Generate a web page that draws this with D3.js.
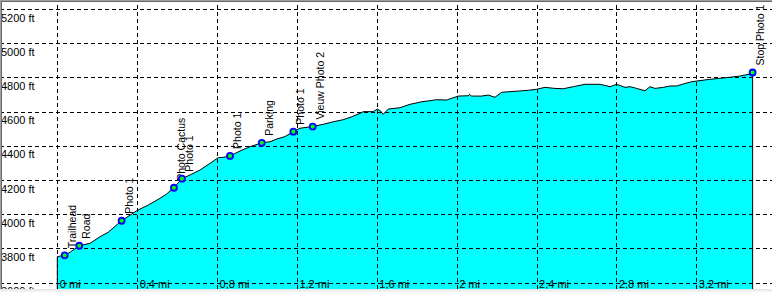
<!DOCTYPE html>
<html>
<head>
<meta charset="utf-8">
<script src="https://cdn.jsdelivr.net/npm/d3@7"></script>
<style>
  body { margin: 0; background: #fff; }
  svg { display: block; font-family: Arial, 'Liberation Sans', sans-serif; }
</style>
</head>
<body>
<div id="chart-area"></div>
<script>
// elevation profile, distance in miles, elevation in feet
const distance = [0, 0.037, 0.064, 0.110, 0.164, 0.214, 0.255, 0.322, 0.398, 0.456, 0.514, 0.548,
	0.584, 0.624, 0.665, 0.715, 0.765, 0.806, 0.831, 0.865, 0.915, 0.965, 1.024, 1.065, 1.099, 1.140,
	1.182, 1.215, 1.279, 1.332, 1.382, 1.432, 1.474, 1.516, 1.532, 1.582, 1.602, 1.619, 1.632, 1.657,
	1.716, 1.766, 1.791, 1.825, 1.866, 1.900, 1.950, 1.975, 2.008, 2.058, 2.063, 2.075, 2.125, 2.158,
	2.192, 2.225, 2.267, 2.317, 2.359, 2.401, 2.442, 2.492, 2.534, 2.584, 2.643, 2.718, 2.768, 2.801,
	2.843, 2.868, 2.901, 2.943, 2.968, 2.993, 3.035, 3.068, 3.102, 3.135, 3.177, 3.202, 3.268, 3.318,
	3.368, 3.418, 3.469, 3.482];
const elevation = [3752, 3760, 3778, 3816, 3830, 3869, 3895, 3962, 4021, 4054, 4093, 4119,
	4155, 4208, 4230, 4259, 4298, 4331, 4333, 4341, 4370, 4395, 4418, 4424, 4440, 4454,
	4483, 4503, 4513, 4526, 4541, 4553, 4570, 4590, 4600, 4600, 4615, 4604, 4584, 4615,
	4623, 4643, 4649, 4658, 4664, 4670, 4668, 4678, 4691, 4693, 4701, 4691, 4691, 4697,
	4684, 4713, 4717, 4721, 4725, 4731, 4742, 4736, 4734, 4746, 4760, 4760, 4746, 4760,
	4742, 4746, 4736, 4722, 4746, 4736, 4742, 4750, 4750, 4762, 4775, 4779, 4789, 4795,
	4801, 4808, 4820, 4829];

// waypoints
const wpNames = ['Trailhead', 'Road', 'Photo 1', 'Photo Cactus', 'Photo 1', 'Photo 1', 'Parking',
	'Photo 1', 'Vieuw Photo 2', 'Stop Photo 1'];
const wpMiles = [0.037, 0.110, 0.322, 0.584, 0.624, 0.865, 1.024, 1.182, 1.279, 3.482];
const wpFeet = [3760, 3816, 3962, 4155, 4208, 4341, 4418, 4483, 4513, 4829];

// ticks
const yTicks = [3600, 3800, 4000, 4200, 4400, 4600, 4800, 5000, 5200];
const xTicks = [0, 0.4, 0.8, 1.2, 1.6, 2, 2.4, 2.8, 3.2];
const xTickLabels = ['0 mi', '0,4 mi', '0,8 mi', '1,2 mi', '1,6 mi', '2 mi', '2,4 mi', '2,8 mi', '3,2 mi'];

let width = 772;
let height = 292;
let plotBottom = 289;

const svg = d3.select('#chart-area').append('svg')
	.attr('width', width)
	.attr('height', height);

svg.append('rect')
	.attr('width', width)
	.attr('height', height)
	.attr('fill', '#fff');

let x = d3.scaleLinear()
	.domain([0, 3.579])
	.range([57.3, 772]);

let y = d3.scaleLinear()
	.domain([3563, 5247])
	.range([plotBottom, 1]);

let profile = distance.map((d, i) => [d, elevation[i]]);

// filled area under the profile
let area = d3.area()
	.x(d => x(d[0]))
	.y0(plotBottom)
	.y1(d => y(d[1]));

svg.append('path')
	.datum(profile)
	.attr('d', area)
	.attr('fill', '#00ffff');

// horizontal grid + labels
let yAxisCall = d3.axisRight(y)
	.tickValues(yTicks)
	.tickSize(width)
	.tickFormat(d => d + ' ft');
let yAxis = svg.append('g')
	.attr('class', 'y-axis')
	.call(yAxisCall);
yAxis.select('.domain').remove();
yAxis.selectAll('line')
	.attr('stroke', '#000')
	.attr('stroke-dasharray', '4,3')
	.attr('shape-rendering', 'crispEdges');
yAxis.selectAll('text')
	.attr('x', 1)
	.attr('dy', 12)
	.attr('fill', '#000')
	.attr('font-size', '11px')
	.attr('text-anchor', 'start');

// vertical grid + labels
let xAxisCall = d3.axisBottom(x)
	.tickValues(xTicks)
	.tickSize(-(plotBottom - 1))
	.tickFormat((d, i) => xTickLabels[i]);
let xAxis = svg.append('g')
	.attr('class', 'x-axis')
	.attr('transform', 'translate(0, ' + plotBottom + ')')
	.call(xAxisCall);
xAxis.select('.domain').remove();
xAxis.selectAll('line')
	.attr('stroke', '#000')
	.attr('stroke-dasharray', '4,3')
	.attr('shape-rendering', 'crispEdges');
xAxis.selectAll('text')
	.attr('x', 2)
	.attr('y', -1)
	.attr('dy', 0)
	.attr('fill', '#000')
	.attr('font-size', '11px')
	.attr('text-anchor', 'start');

// profile outline, closed down to the bottom at both ends
let outline = [[distance[0], y.domain()[0]]].concat(profile)
	.concat([[distance[distance.length - 1], y.domain()[0]]]);
let line = d3.line()
	.x(d => x(d[0]))
	.y(d => y(d[1]));
svg.append('path')
	.datum(outline)
	.attr('d', line)
	.attr('fill', 'none')
	.attr('stroke', '#000')
	.attr('stroke-width', 1);

// waypoints
let wp = svg.selectAll('.wp')
	.data(wpNames)
	.enter()
	.append('g')
		.attr('class', 'wp');

wp.append('circle')
	.attr('cx', (d, i) => x(wpMiles[i]))
	.attr('cy', (d, i) => y(wpFeet[i]))
	.attr('r', 3)
	.attr('fill', '#00ff00')
	.attr('stroke', '#0000ff')
	.attr('stroke-width', 1.8);

wp.append('text')
	.attr('transform', (d, i) => 'translate(' + (x(wpMiles[i]) + 11) + ', '
		+ (y(wpFeet[i]) - 7) + ') rotate(-90)')
	.attr('font-size', '10.5px')
	.attr('fill', '#000')
	.text(d => d);

// sunken frame
svg.append('rect').attr('x', 0).attr('y', 0).attr('width', width).attr('height', 1).attr('fill', '#a0a0a0');
svg.append('rect').attr('x', 0).attr('y', 1).attr('width', width).attr('height', 1).attr('fill', '#696969');
svg.append('rect').attr('x', 0).attr('y', 0).attr('width', 1).attr('height', height).attr('fill', '#a0a0a0');
svg.append('rect').attr('x', 1).attr('y', 1).attr('width', 1).attr('height', height).attr('fill', '#696969');
svg.append('rect').attr('x', 0).attr('y', plotBottom).attr('width', width).attr('height', 1).attr('fill', '#e3e3e3');
svg.append('rect').attr('x', 0).attr('y', plotBottom + 1).attr('width', width).attr('height', height - plotBottom - 1).attr('fill', '#f0f0f0');
</script>
</body>
</html>
